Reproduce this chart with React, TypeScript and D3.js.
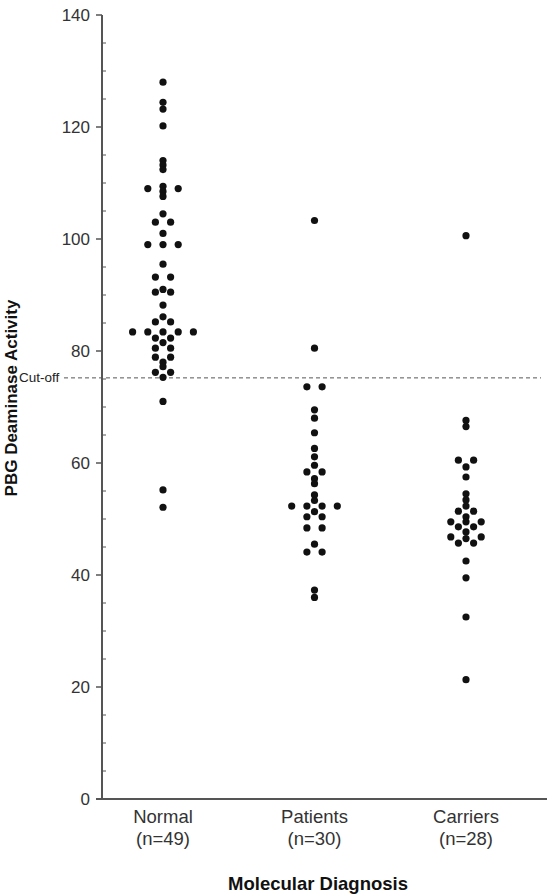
import React from "react";
import * as d3 from "d3";

const categories = ["Normal", "Patients", "Carriers"];
const categoryCounts = ["(n=49)", "(n=30)", "(n=28)"];

// values and beeswarm lane (horizontal slot) for each point
const normalValues = [128, 124.4, 123.2, 120.2, 114, 113.2, 112.4, 109, 109, 109.4, 108.5, 107.6, 104.5, 103, 103, 101, 99, 99, 99, 95.5, 93.2, 93.2, 91, 90.5, 90.5, 88.2, 86.1, 85.2, 85.2, 83.4, 83.4, 83.4, 83.4, 83.4, 82.3, 82.3, 81.5, 80.5, 80.5, 78.9, 78.9, 78, 77.2, 76.2, 76.2, 75.3, 71, 55.2, 52.1];
const normalLanes = [0, 0, 0, 0, 0, 0, 0, -2, 2, 0, 0, 0, 0, -1, 1, 0, -2, 0, 2, 0, -1, 1, 0, -1, 1, 0, 0, -1, 1, -4, -2, 0, 2, 4, -1, 1, 0, -1, 1, -1, 1, 0, 0, -1, 1, 0, 0, 0, 0];

const patientValues = [103.3, 80.5, 73.6, 73.6, 69.5, 68, 65.4, 62.6, 61.1, 59.6, 58.4, 58.4, 57.2, 56.3, 54.3, 53.3, 52.3, 52.3, 52.3, 52.3, 51.3, 50.4, 50.4, 48.4, 48.4, 45.5, 44.1, 44.1, 37.3, 36];
const patientLanes = [0, 0, -1, 1, 0, 0, 0, 0, 0, 0, -1, 1, 0, 0, 0, 0, -3, -1, 1, 3, 0, -1, 1, -1, 1, 0, -1, 1, 0, 0];

const carrierValues = [100.6, 67.6, 66.5, 60.5, 60.5, 59.3, 57.5, 54.5, 53.4, 52.3, 51.4, 51.4, 50.4, 49.5, 49.5, 49.5, 48.6, 48.6, 47.7, 46.8, 46.8, 45.7, 45.7, 46.5, 42.5, 39.5, 32.5, 21.3];
const carrierLanes = [0, 0, 0, -1, 1, 0, 0, 0, 0, 0, -1, 1, 0, 0, -2, 2, -1, 1, 0, -2, 2, -1, 1, 0, 0, 0, 0, 0];

const yTicks = [0, 20, 40, 60, 80, 100, 120, 140];
const yMinorTicks = d3.range(0, 141, 5).filter((v) => v % 20 !== 0);
const cutOff = 75.2;

const W = 547;
const H = 895;

export default function App() {
  const y = d3.scaleLinear().domain([0, 140]).range([799, 15]);
  const x = d3.scalePoint<string>().domain(categories).range([163, 466]);
  const lane = d3.scaleLinear().domain([0, 1]).range([0, 7.6]);

  const groups = [
    { cat: "Normal", vals: normalValues, lanes: normalLanes },
    { cat: "Patients", vals: patientValues, lanes: patientLanes },
    { cat: "Carriers", vals: carrierValues, lanes: carrierLanes },
  ];

  const axisX = 102;
  const font = "Liberation Sans, Arial, sans-serif";

  return (
    <svg
      width={W}
      height={H}
      style={{ position: "absolute", left: 0, top: 0, background: "#fff" }}
      fontFamily={font}
    >
      <rect width={W} height={H} fill="#fff" />
      {/* cut-off line */}
      <line
        x1={64}
        x2={541}
        y1={y(cutOff)}
        y2={y(cutOff)}
        stroke="#555"
        strokeWidth={1}
        strokeDasharray="4,3"
      />
      <text x={19} y={y(cutOff) + 4} fontSize={13.5} fill="#222">
        Cut-off
      </text>

      {/* y axis */}
      <line x1={axisX} x2={axisX} y1={y(140)} y2={y(0)} stroke="#555" strokeWidth={2} />
      {yTicks.map((t) => (
        <g key={t}>
          <line x1={axisX - 6} x2={axisX} y1={y(t)} y2={y(t)} stroke="#555" strokeWidth={1.5} />
          <text x={axisX - 12} y={y(t) + 6} fontSize={17} textAnchor="end" fill="#333">
            {t}
          </text>
        </g>
      ))}
      {yMinorTicks.map((t) => (
        <line key={t} x1={axisX} x2={axisX + 4} y1={y(t)} y2={y(t)} stroke="#555" strokeWidth={1} />
      ))}

      {/* x axis */}
      <line x1={axisX - 6} x2={W} y1={y(0)} y2={y(0)} stroke="#555" strokeWidth={2} />
      {categories.map((c, i) => (
        <g key={c}>
          <text x={x(c)} y={823} fontSize={18.5} textAnchor="middle" fill="#333">
            {c}
          </text>
          <text x={x(c)} y={845} fontSize={18.5} textAnchor="middle" fill="#333">
            {categoryCounts[i]}
          </text>
        </g>
      ))}
      <text x={318} y={890} fontSize={18.5} fontWeight="bold" textAnchor="middle" fill="#111">
        Molecular Diagnosis
      </text>
      <text
        transform={`translate(17, 398) rotate(-90)`}
        fontSize={17}
        fontWeight="bold"
        textAnchor="middle"
        fill="#111"
      >
        PBG Deaminase Activity
      </text>

      {/* points */}
      {groups.map((g) =>
        g.vals.map((v, i) => (
          <circle
            key={g.cat + i}
            cx={(x(g.cat) as number) + lane(g.lanes[i])}
            cy={y(v)}
            r={3.6}
            fill="#111"
          />
        ))
      )}
    </svg>
  );
}
